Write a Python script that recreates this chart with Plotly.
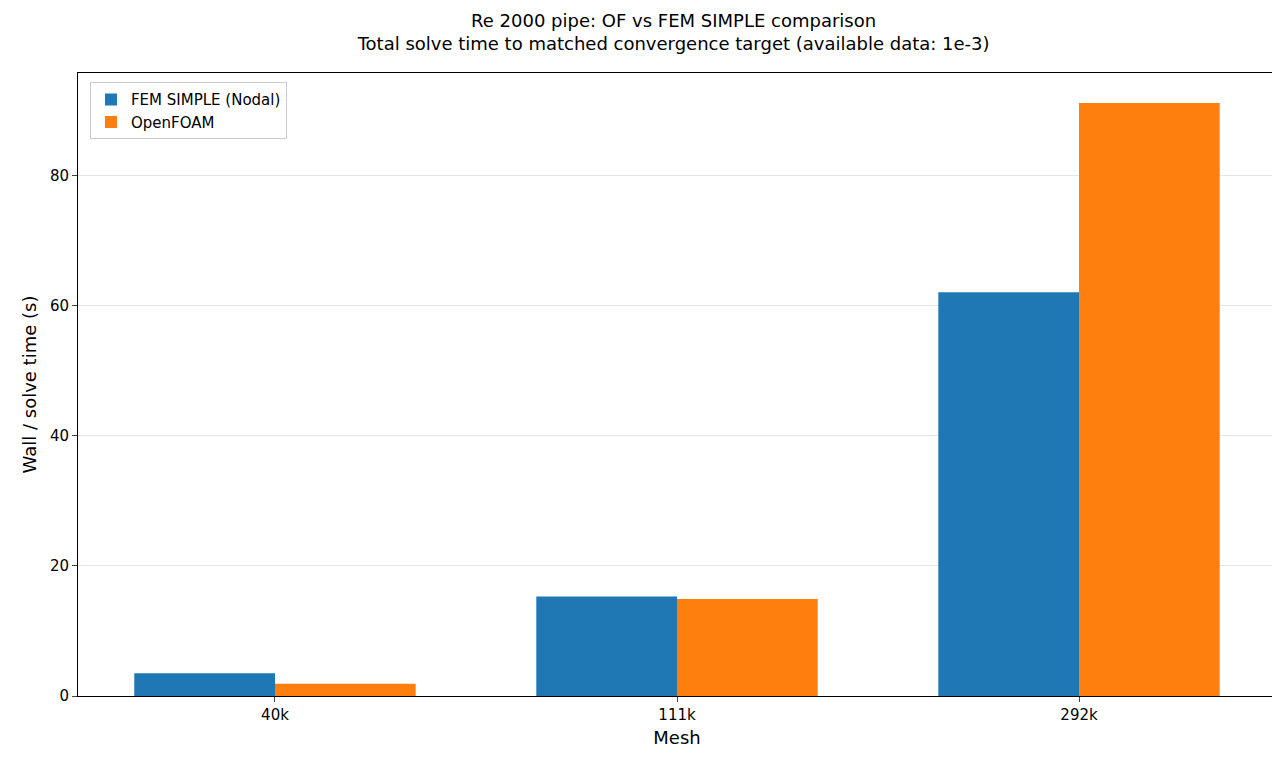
import plotly.graph_objects as go

meshes = ["40k", "111k", "292k"]
fem_times = [3.5, 15.3, 62.1]
of_times = [1.9, 14.9, 91.2]

x = list(range(len(meshes)))
w = 0.35

fig = go.Figure()
fig.add_trace(go.Bar(x=[i - w / 2 for i in x], y=fem_times, width=w,
                     name="FEM SIMPLE (Nodal)", marker=dict(color="#1f77b4", line=dict(width=0))))
fig.add_trace(go.Bar(x=[i + w / 2 for i in x], y=of_times, width=w,
                     name="OpenFOAM", marker=dict(color="#ff7f0e", line=dict(width=0))))

fig.update_layout(
    width=1280, height=758,
    paper_bgcolor="white", plot_bgcolor="white",
    font=dict(family="DejaVu Sans", size=15, color="black"),
    title=dict(text="Re 2000 pipe: OF vs FEM SIMPLE comparison<br>Total solve time to matched convergence target (available data: 1e-3)",
               x=0.52, xanchor="center", y=0.975, yanchor="top", font=dict(size=18)),
    margin=dict(l=70, r=12, t=65, b=70),
    barmode="overlay",
    legend=dict(x=0.01, y=0.985, xanchor="left", yanchor="top",
                bordercolor="#cccccc", borderwidth=1, bgcolor="white", font=dict(size=15)),
    showlegend=True,
)
fig.update_xaxes(tickvals=x, ticktext=meshes, range=[-0.49, 2.49], title_text="Mesh",
                 showline=True, linecolor="black", mirror=True, ticks="outside",
                 showgrid=False, zeroline=False, title_standoff=8)
fig.update_yaxes(range=[0, 95.8], dtick=20, title_text="Wall / solve time (s)",
                 showline=True, linecolor="black", mirror=True, ticks="outside",
                 showgrid=True, gridcolor="#e6e6e6", zeroline=False, title_standoff=8)

fig.write_html("out.html")
